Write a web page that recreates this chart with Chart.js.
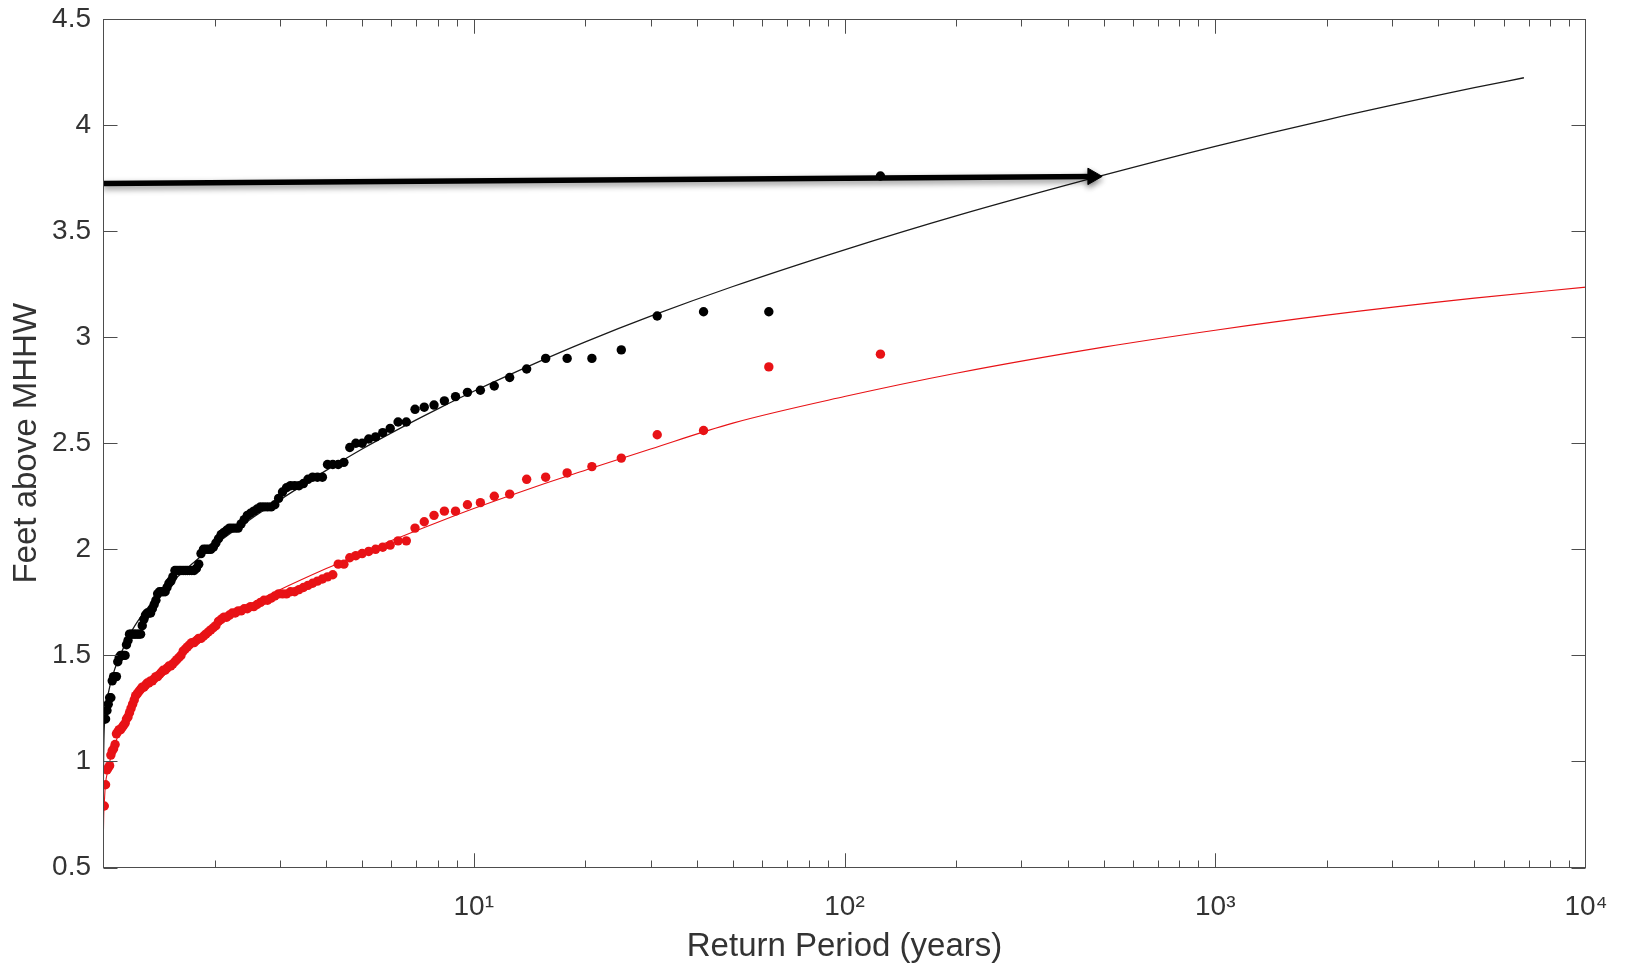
<!DOCTYPE html>
<html>
<head>
<meta charset="utf-8">
<title>Return period of water levels</title>
<script src="https://cdn.jsdelivr.net/npm/chart.js@4.4.0/dist/chart.umd.min.js"></script>
<style>
  html, body { margin: 0; padding: 0; background: #fff; }
</style>
</head>
<body>
<canvas id="returnChart" width="1627" height="967"></canvas>
<script>
// return period (years) of each ranked annual maximum, rank 1..124
const returnPeriod = [
  125, 62.5, 41.67, 31.25, 25, 20.83, 17.86, 15.63, 13.89, 12.5,
  11.36, 10.42, 9.615, 8.929, 8.333, 7.813, 7.353, 6.944, 6.579, 6.25,
  5.952, 5.682, 5.435, 5.208, 5, 4.808, 4.63, 4.464, 4.31, 4.167,
  4.032, 3.906, 3.788, 3.676, 3.571, 3.472, 3.378, 3.289, 3.205, 3.125,
  3.049, 2.976, 2.907, 2.841, 2.778, 2.717, 2.66, 2.604, 2.551, 2.5,
  2.451, 2.404, 2.358, 2.315, 2.273, 2.232, 2.193, 2.155, 2.119, 2.083,
  2.049, 2.016, 1.984, 1.953, 1.923, 1.894, 1.866, 1.838, 1.812, 1.786,
  1.761, 1.736, 1.712, 1.689, 1.667, 1.645, 1.623, 1.603, 1.582, 1.563,
  1.543, 1.524, 1.506, 1.488, 1.471, 1.453, 1.437, 1.42, 1.404, 1.389,
  1.374, 1.359, 1.344, 1.33, 1.316, 1.302, 1.289, 1.276, 1.263, 1.25,
  1.238, 1.225, 1.214, 1.202, 1.19, 1.179, 1.168, 1.157, 1.147, 1.136,
  1.126, 1.116, 1.106, 1.096, 1.087, 1.078, 1.068, 1.059, 1.05, 1.042,
  1.033, 1.025, 1.016, 1.008
];

// observed levels (feet above MHHW), same order as returnPeriod
const blackLevels = [
  3.76, 3.12, 3.12, 3.10, 2.94, 2.90, 2.90, 2.90, 2.85, 2.81,
  2.77, 2.75, 2.74, 2.72, 2.70, 2.68, 2.67, 2.66, 2.60, 2.60,
  2.57, 2.55, 2.53, 2.52, 2.50, 2.50, 2.48, 2.41, 2.40, 2.40,
  2.40, 2.34, 2.34, 2.34, 2.33, 2.31, 2.30, 2.30, 2.30, 2.29,
  2.27, 2.24, 2.21, 2.20, 2.20, 2.20, 2.20, 2.19, 2.18, 2.17,
  2.16, 2.14, 2.12, 2.10, 2.10, 2.10, 2.10, 2.09, 2.08, 2.07,
  2.05, 2.03, 2.01, 2.00, 2.00, 2.00, 2.00, 1.98, 1.93, 1.91,
  1.90, 1.90, 1.90, 1.90, 1.90, 1.90, 1.90, 1.90, 1.90, 1.90,
  1.87, 1.85, 1.84, 1.82, 1.80, 1.80, 1.80, 1.80, 1.79, 1.76,
  1.74, 1.72, 1.70, 1.70, 1.70, 1.69, 1.67, 1.64, 1.60, 1.60,
  1.60, 1.60, 1.60, 1.60, 1.60, 1.60, 1.57, 1.55, 1.50, 1.50,
  1.50, 1.50, 1.49, 1.47, 1.40, 1.40, 1.40, 1.38, 1.30, 1.30,
  1.27, 1.24, 1.20, 1.20
];

const redLevels = [
  2.92, 2.86, 2.56, 2.54, 2.43, 2.39, 2.36, 2.34, 2.33, 2.26,
  2.25, 2.22, 2.21, 2.18, 2.18, 2.16, 2.13, 2.10, 2.04, 2.04,
  2.02, 2.01, 2.00, 1.99, 1.98, 1.97, 1.96, 1.93, 1.93, 1.88,
  1.87, 1.86, 1.85, 1.84, 1.83, 1.82, 1.81, 1.80, 1.80, 1.79,
  1.79, 1.79, 1.78, 1.77, 1.76, 1.76, 1.75, 1.74, 1.73, 1.73,
  1.72, 1.72, 1.71, 1.71, 1.70, 1.70, 1.69, 1.68, 1.68, 1.67,
  1.66, 1.64, 1.63, 1.62, 1.61, 1.60, 1.59, 1.58, 1.58, 1.57,
  1.56, 1.56, 1.55, 1.54, 1.53, 1.52, 1.50, 1.49, 1.48, 1.47,
  1.46, 1.45, 1.45, 1.44, 1.43, 1.43, 1.42, 1.41, 1.40, 1.40,
  1.39, 1.38, 1.38, 1.37, 1.37, 1.36, 1.35, 1.35, 1.34, 1.33,
  1.32, 1.31, 1.29, 1.27, 1.25, 1.23, 1.21, 1.20, 1.18, 1.17,
  1.16, 1.15, 1.15, 1.14, 1.13, 1.08, 1.06, 1.05, 1.03, 0.98,
  0.97, 0.96, 0.89, 0.79
];

// fitted curves
const blackFitPeriod = [1.0003, 1.002, 1.01, 1.03, 1.06, 1.1, 1.2, 1.3, 1.5, 1.75, 2, 2.5, 3, 4, 5, 6, 8, 10, 15, 20, 30, 50, 100, 200, 500, 1000, 2000, 5000, 6800];
const blackFit = [0.45, 0.85, 1.19, 1.31, 1.40, 1.48, 1.62, 1.71, 1.83, 1.935, 2.02, 2.142, 2.233, 2.372, 2.473, 2.549, 2.662, 2.745, 2.885, 2.978, 3.099, 3.239, 3.412, 3.572, 3.764, 3.90, 4.025, 4.176, 4.223];

const redFitPeriod = [1.0003, 1.002, 1.01, 1.03, 1.06, 1.1, 1.2, 1.3, 1.5, 1.75, 2, 2.5, 3, 4, 5, 6, 8, 10, 15, 20, 30, 50, 100, 200, 500, 1000, 2000, 5000, 10000];
const redFit = [0.38, 0.61, 0.83, 0.955, 1.045, 1.125, 1.26, 1.35, 1.458, 1.562, 1.64, 1.74, 1.809, 1.909, 1.982, 2.041, 2.128, 2.192, 2.301, 2.373, 2.473, 2.595, 2.72, 2.83, 2.953, 3.033, 3.104, 3.184, 3.236];

// arrow from the axis to the black curve
const arrowPeriod = [1, 467];
const arrowLevel = [3.724, 3.758];

const xTickValues = [10, 100, 1000, 10000];
const yTickValues = [0.5, 1, 1.5, 2, 2.5, 3, 3.5, 4, 4.5];

const fontFamily = "'Liberation Sans', Arial, Helvetica, sans-serif";
const textColor = '#333333';
const axisColor = '#4d4d4d';
const red = 'rgb(232, 18, 22)';
const sup = ['\u2070', '\u00b9', '\u00b2', '\u00b3', '\u2074'];

const pairs = (xs, ys) => xs.map((v, i) => ({x: v, y: ys[i]}));

// MATLAB-like box with inward ticks
const matlabAxes = {
    id: 'matlabAxes',
    afterDatasetsDraw(chart) {
        const {ctx, chartArea: a, scales: {x, y}} = chart;
        const L = Math.round(a.left) + 0.5;
        const R = Math.round(a.right) - 0.5;
        const T = Math.round(a.top) + 0.5;
        const B = Math.round(a.bottom) - 0.5;
        ctx.save();
        ctx.strokeStyle = axisColor;
        ctx.lineWidth = 1;
        ctx.strokeRect(L, T, R - L, B - T);
        ctx.beginPath();
        yTickValues.forEach(v => {
            const py = Math.round(y.getPixelForValue(v)) + 0.5;
            ctx.moveTo(L, py); ctx.lineTo(L + 14, py);
            ctx.moveTo(R, py); ctx.lineTo(R - 14, py);
        });
        for (let d = 1; d <= 1000; d *= 10) {
            for (let m = 1; m <= 10; m++) {
                const v = d * m;
                if (v <= 1 || v >= 10000) continue;
                const len = (m === 1 || m === 10) ? 14 : 7;
                const px = Math.round(x.getPixelForValue(v)) + 0.5;
                ctx.moveTo(px, B); ctx.lineTo(px, B - len);
                ctx.moveTo(px, T); ctx.lineTo(px, T + len);
            }
        }
        ctx.stroke();
        ctx.restore();
    }
};

// soft drop shadow under the arrow (dataset 0)
const arrowShadow = {
    id: 'arrowShadow',
    beforeDatasetDraw(chart, args) {
        if (args.index !== 0) return;
        const ctx = chart.ctx;
        ctx.save();
        ctx.shadowColor = 'rgba(0, 0, 0, 0.45)';
        ctx.shadowBlur = 6;
        ctx.shadowOffsetY = 3;
    },
    afterDatasetDraw(chart, args) {
        if (args.index !== 0) return;
        chart.ctx.restore();
    }
};

new Chart(document.getElementById('returnChart'), {
    type: 'line',
    data: {
        datasets: [{
            label: 'arrow',
            data: pairs(arrowPeriod, arrowLevel),
            borderColor: '#000',
            backgroundColor: '#000',
            borderWidth: 5.5,
            pointRadius: [0, 9.5],
            pointStyle: 'triangle',
            pointRotation: 90,
            pointBackgroundColor: '#000',
            pointBorderColor: '#000',
            pointBorderWidth: 1
        }, {
            label: 'black observed',
            data: pairs(returnPeriod, blackLevels),
            showLine: false,
            pointRadius: 4.7,
            pointBorderWidth: 0,
            pointBackgroundColor: '#000',
            borderColor: '#000'
        }, {
            label: 'red observed',
            data: pairs(returnPeriod, redLevels),
            showLine: false,
            pointRadius: 4.7,
            pointBorderWidth: 0,
            pointBackgroundColor: red,
            borderColor: red
        }, {
            label: 'black fit',
            data: pairs(blackFitPeriod, blackFit),
            borderColor: '#1a1a1a',
            borderWidth: 1.3,
            pointRadius: 0,
            cubicInterpolationMode: 'monotone'
        }, {
            label: 'red fit',
            data: pairs(redFitPeriod, redFit),
            borderColor: red,
            borderWidth: 1.1,
            pointRadius: 0,
            cubicInterpolationMode: 'monotone'
        }]
    },
    options: {
        responsive: false,
        animation: false,
        devicePixelRatio: 1,
        layout: {
            padding: {left: 0, right: 41, top: 19, bottom: 0}
        },
        plugins: {
            legend: {display: false},
            tooltip: {enabled: false}
        },
        scales: {
            x: {
                type: 'logarithmic',
                min: 1,
                max: 10000,
                afterBuildTicks: scale => {
                    scale.ticks = xTickValues.map(v => ({value: v}));
                },
                afterFit: scale => {
                    scale.height = 99.5;
                    scale.paddingLeft = 0;
                    scale.paddingRight = 0;
                },
                ticks: {
                    autoSkip: false,
                    maxRotation: 0,
                    padding: 23,
                    color: textColor,
                    font: {family: fontFamily, size: 28},
                    callback: v => '10' + sup[Math.round(Math.log10(v))]
                },
                grid: {display: false, drawTicks: false},
                border: {display: false},
                title: {
                    display: true,
                    text: 'Return Period (years)',
                    color: textColor,
                    font: {family: fontFamily, size: 33},
                    padding: {top: 0, bottom: 0}
                }
            },
            y: {
                min: 0.5,
                max: 4.5,
                afterFit: scale => {
                    scale.width = 103;
                    scale.paddingTop = 0;
                    scale.paddingBottom = 0;
                },
                ticks: {
                    stepSize: 0.5,
                    padding: 12,
                    color: textColor,
                    font: {family: fontFamily, size: 28},
                    callback: v => String(v)
                },
                grid: {display: false, drawTicks: false},
                border: {display: false},
                title: {
                    display: true,
                    text: 'Feet above MHHW',
                    color: textColor,
                    font: {family: fontFamily, size: 33},
                    padding: {top: 7, bottom: 0}
                }
            }
        }
    },
    plugins: [matlabAxes, arrowShadow]
});
</script>
</body>
</html>
